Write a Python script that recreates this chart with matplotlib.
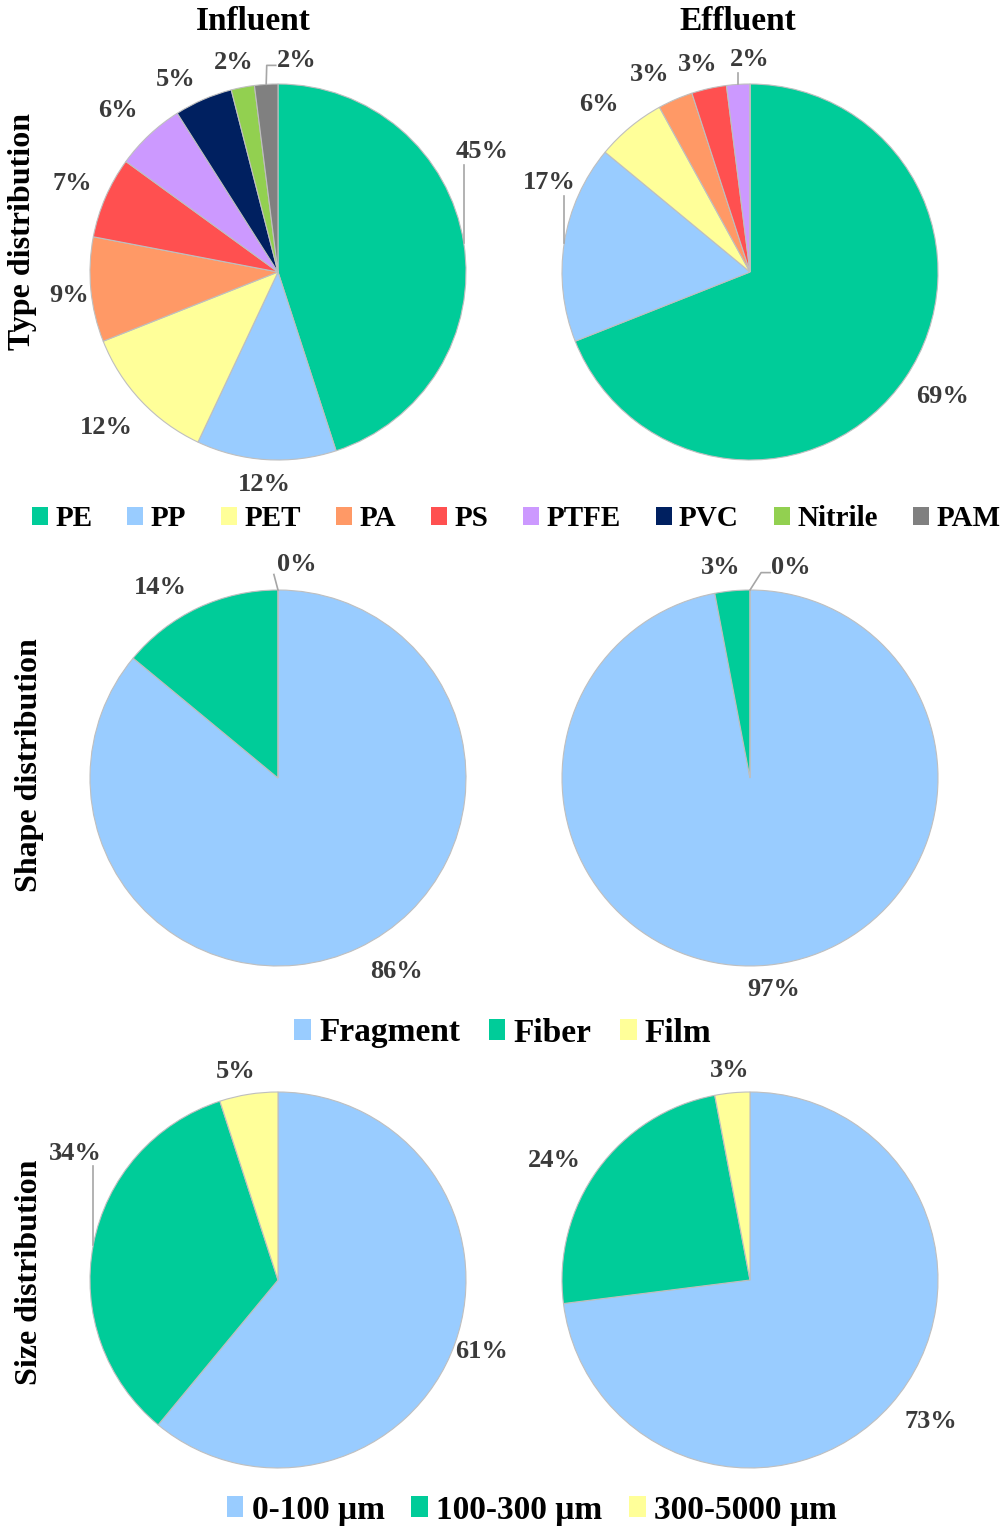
import numpy as np
import matplotlib
matplotlib.use('Agg')
import matplotlib.pyplot as plt
from matplotlib.patches import Patch

plt.rcParams['font.family'] = ['Liberation Serif', 'DejaVu Serif']
plt.rcParams['font.weight'] = 'bold'

# polymer type (% of particles)
type_names = ['PE', 'PP', 'PET', 'PA', 'PS', 'PTFE', 'PVC', 'Nitrile', 'PAM']
type_colors = ['#00CC99', '#99CCFF', '#FFFF99', '#FF9966', '#FF5050',
               '#CC99FF', '#002060', '#92D050', '#808080']
type_influent = [45, 12, 12, 9, 7, 6, 5, 2, 2]
type_effluent = [69, 17, 6, 3, 3, 2, 0, 0, 0]

# particle shape
shape_names = ['Fragment', 'Fiber', 'Film']
shape_colors = ['#99CCFF', '#00CC99', '#FFFF99']
shape_influent = [86, 14, 0]
shape_effluent = [97, 3, 0]

# particle size
size_names = ['0-100 μm', '100-300 μm', '300-5000 μm']
size_colors = ['#99CCFF', '#00CC99', '#FFFF99']
size_influent = [61, 34, 5]
size_effluent = [73, 24, 3]

columns = ['Influent', 'Effluent']
row_titles = ['Type distribution', 'Shape distribution', 'Size distribution']

rows = [
    (type_names, type_colors, [type_influent, type_effluent], False),
    (shape_names, shape_colors, [shape_influent, shape_effluent], True),
    (size_names, size_colors, [size_influent, size_effluent], True),
]

# layout in pixels
W, H = 1000, 1530
R = 188
CX = [278, 750]
CY = [272, 778, 1280]
L = 1.4
LBL_FS = 19
em = LBL_FS * 100 / 72

# (angle shift from wedge middle, distance in radii, leader style)
nudges = {
    (0, 0): [(21.5, 1.26, 'v'), (0, 1.13, None), (-1, 1.23, None), (1, 1.12, None),
             (0, 1.19, None), (1.6, 1.21, None), (4.5, 1.16, None), (1.2, 1.14, None),
             (-8.6, 1.13, 'e')],
    (0, 1): [(1.2, 1.22, None), (-15, 1.17, 'v'), (2.4, 1.2, None), (3.6, 1.18, None),
             (1.4, 1.14, None), (-3.6, 1.13, 'v'), (0, 1.1, None), (0, 1.1, None),
             (0, 1.1, None)],
    (1, 0): [(6.3, 1.21, None), (6.5, 1.19, None), (-5, 1.14, 's')],
    (1, 1): [(1.1, 1.13, None), (2.5, 1.13, None), (-11, 1.14, 'e')],
    (2, 0): [(0.4, 1.15, None), (-21.2, 1.27, 'v'), (2.4, 1.13, None)],
    (2, 1): [(3.4, 1.22, None), (4.5, 1.22, None), (0, 1.12, None)],
}


def fig_box(cx, cy, half):
    return [(cx - half) / W, 1 - (cy + half) / H, 2 * half / W, 2 * half / H]


fig = plt.figure(figsize=(W / 100, H / 100), dpi=100)

for r, (names, colors, pair, show_zero) in enumerate(rows):
    for c, vals in enumerate(pair):
        ax = fig.add_axes(fig_box(CX[c], CY[r], R * L))
        ax.pie(vals, colors=colors, startangle=90, counterclock=False, radius=1,
               wedgeprops=dict(edgecolor='#BFBFBF', linewidth=0.8))
        ax.set_xlim(-L, L)
        ax.set_ylim(-L, L)
        ax.set_aspect('equal')
        ax.axis('off')

        total = float(sum(vals))
        start = 90.0
        for i, v in enumerate(vals):
            sweep = 360.0 * v / total
            mid = start - sweep / 2
            start -= sweep
            if v == 0 and not show_zero:
                continue
            shift, dist, kind = nudges[(r, c)][i]
            a = np.radians(mid + shift)
            lx, ly = dist * np.cos(a), dist * np.sin(a)
            txt = f'{v}%'
            ax.text(lx, ly, txt, ha='center', va='center', fontsize=LBL_FS,
                    color='#3A3A3A', fontweight='bold')
            if kind is None:
                continue
            ex, ey = np.cos(np.radians(mid)), np.sin(np.radians(mid))
            hw = 0.5 * (0.5 * (len(txt) - 1) + 1.0) * em / R
            hh = 10 / R
            if kind == 'v':
                xs, ys = [ex, ex], [ey, ly - hh - 3 / R]
            elif kind == 'e':
                x1, y1 = lx - hw - 10 / R, ly - 5 / R
                xs, ys = [ex, x1, lx - hw - 1 / R], [ey, y1, y1]
            else:
                xs, ys = [ex, lx - hw - 3 / R], [ey, ly - hh]
            ax.plot(xs, ys, color='#A6A6A6', lw=1.2, clip_on=False)

# column titles
for x, t in zip([253, 738], columns):
    fig.text(x / W, 1 - 22 / H, t, ha='center', va='center', fontsize=24,
             fontweight='bold')

# row titles
for (x, y), t in zip([(23, 231), (30, 765), (30, 1272)], row_titles):
    fig.text(x / W, 1 - y / H, t, ha='center', va='center', rotation=90,
             fontsize=23, fontweight='bold')

# legends under each row: centre x, centre y, font size, handle length, column gap
legend_spots = [(516, 519, 21, 0.55, 1.2), (503, 1033, 24, 0.5, 0.85),
                (532, 1510, 24, 0.5, 0.8)]
for (names, colors, _, _), (x, y, fs, hl, cs) in zip(rows, legend_spots):
    handles = [Patch(facecolor=col, edgecolor='none', label=n)
               for n, col in zip(names, colors)]
    fig.legend(handles=handles, loc='center', bbox_to_anchor=(x / W, 1 - y / H),
               ncol=len(names), frameon=False, fontsize=fs, handlelength=hl,
               handleheight=0.6, handletextpad=0.25, columnspacing=cs,
               borderpad=0, borderaxespad=0)

fig.savefig('out.png', dpi=100)
